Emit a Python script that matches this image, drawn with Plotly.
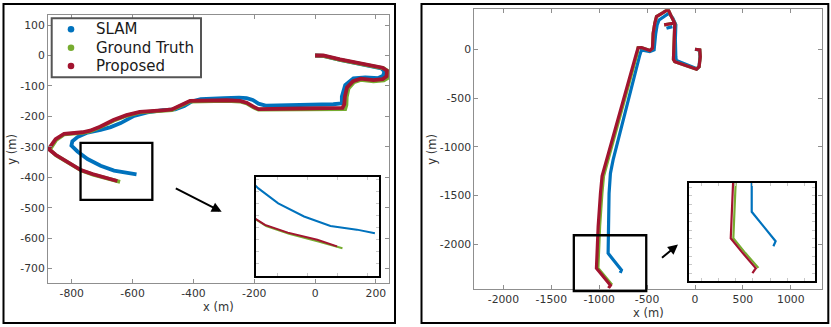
import plotly.graph_objects as go

# ---------------- data: left panel (m) ----------------
slam_l_x = [0, 27, 82, 137, 192, 218, 228, 224, 208, 165, 126, 99, 88, 88, 60, -47, -160, -186, -205, -225,
            -250, -300, -376, -405, -430, -460, -500, -551, -595, -639, -672, -705, -748, -781, -798, -801,
            -781, -748, -705, -661, -617, -587]
slam_l_y = [0, -1, -14, -25, -36, -42, -52, -66, -74, -72, -75, -97, -135, -157, -160, -163, -165, -158, -146, -140,
            -138, -140, -143, -151, -166, -177, -179, -187, -198, -222, -235, -244, -253, -268, -282, -296,
            -315, -340, -362, -378, -384, -390]
gt_l_x = [0, 27, 82, 137, 192, 226, 244, 242, 226, 192, 150, 128, 110, 104, 103, 99, -47, -186, -203, -225,
          -247, -290, -411, -444, -471, -493, -543, -576, -620, -663, -707, -740, -765, -798, -825, -851, -868,
          -872, -851, -812, -768, -730, -681, -641]
gt_l_y = [0, -1, -14, -25, -36, -42, -54, -72, -82, -85, -80, -88, -108, -137, -162, -176, -177, -178, -170, -157,
          -151, -149, -151, -165, -179, -181, -183, -187, -198, -214, -236, -249, -254, -257, -259, -277, -301,
          -309, -328, -350, -378, -391, -404, -415]
prop_l_x = [0, 27, 82, 137, 192, 222, 236, 235, 222, 192, 150, 125, 105, 98, 96, 90, -47, -186, -203, -225,
            -247, -290, -411, -444, -471, -493, -543, -576, -620, -663, -707, -740, -765, -798, -825, -853, -871,
            -876, -853, -814, -770, -732, -683, -650]
prop_l_y = [0, 0, -13, -24, -35, -40, -50, -68, -78, -81, -76, -84, -105, -135, -160, -172, -174, -176, -168, -155,
            -149, -147, -149, -163, -177, -179, -181, -185, -196, -212, -234, -247, -252, -255, -257, -275, -299,
            -307, -326, -348, -376, -389, -401, -412]

# ---------------- data: right panel (m) ----------------
slam_r_x = [0, 48, 52, 42, 20, -195, -200, -205, -200, -232, -272, -320, -375, -395, -410, -427, -472, -559, -576,
            -855, -883, -897, -907, -907, -837, -768, -781, None, -298, -236]
slam_r_y = [0, -8, -75, -180, -200, -115, -80, 100, 250, 320, 370, 340, 300, 250, 160, -7, -24, -7, -58,
            -1135, -1272, -1477, -1819, -2092, -2178, -2263, -2292, None, 215, 232]
gt_r_x = [0, 50, 55, 43, 15, -211, -225, -218, -211, -246, -281, -333, -402, -420, -437, -444, -470, -559, -594,
          -603, -927, -955, -972, -996, -1014, -944, -868, None, -322, -228]
gt_r_y = [0, -7, -75, -178, -205, -127, -103, 96, 267, 335, 410, 376, 335, 267, 164, 10, -12, 18, 15,
          -40, -1220, -1300, -1477, -1819, -2246, -2332, -2418, None, 250, 267]
prop_r_x = [0, 50, 55, 43, 15, -211, -225, -218, -211, -246, -281, -333, -402, -420, -437, -444, -470, -559, -594,
            -611, -942, -970, -987, -1011, -1029, -959, -883, -903, None, -322, -228]
prop_r_y = [0, -7, -75, -178, -205, -127, -103, 96, 267, 335, 410, 376, 335, 267, 164, 10, -12, 18, 15,
            -40, -1220, -1300, -1477, -1819, -2246, -2332, -2420, -2449, None, 250, 267]

series_names = ["SLAM", "Ground Truth", "Proposed"]
series_colors = ["#0072BD", "#77AC30", "#A2142F"]

# tick values
l_xticks = [-800, -600, -400, -200, 0, 200]
l_yticks = [-700, -600, -500, -400, -300, -200, -100, 0, 100]
r_xticks = [-2000, -1500, -1000, -500, 0, 500, 1000]
r_yticks = [-2000, -1500, -1000, -500, 0]
axis_titles = ["x (m)", "y (m)"]

# zoom boxes (data units) shown on the main axes
l_box_x = [-771, -535]
l_box_y = [-474, -287]
r_box_x = [-1265, -509]
r_box_y = [-2479, -1907]

# ---------------- layout geometry ----------------
W, H = 831, 327


def dx(a, b):
    return [a / W, b / W]


def dy(top, bottom):
    return [1 - bottom / H, 1 - top / H]


def px(xp):
    return xp / W


def py(yp):
    return 1 - yp / H


L_dom = (dx(48, 389), dy(15, 283.3))
LI_dom = (dx(256, 378.5), dy(177, 275.7))
R_dom = (dx(474.3, 822.3), dy(9.3, 288.7))
RI_dom = (dx(689.3, 815), dy(182.7, 281.3))

L_rng = ([-878, 243], [-748, 133])
LI_rng = ([-785, -581], [-461, -296])
R_rng = ([-2304, 1329], [-2455, 410])
RI_rng = ([-1270, -539], [-2496, -1923])

FONT = "DejaVu Sans"
TXT = "#333333"
AX = "#8f8f8f"

fig = go.Figure()

groups = [
    ("x", "y", [slam_l_x, gt_l_x, prop_l_x], [slam_l_y, gt_l_y, prop_l_y], 3.8),
    ("x2", "y2", [slam_l_x, gt_l_x, prop_l_x], [slam_l_y, gt_l_y, prop_l_y], 2),
    ("x3", "y3", [slam_r_x, gt_r_x, prop_r_x], [slam_r_y, gt_r_y, prop_r_y], 3.2),
    ("x4", "y4", [slam_r_x, gt_r_x, prop_r_x], [slam_r_y, gt_r_y, prop_r_y], 2.2),
]
for xa, ya, xs, ys, lw in groups:
    for i in range(3):
        fig.add_trace(go.Scatter(x=xs[i], y=ys[i], mode="lines", xaxis=xa, yaxis=ya, name=series_names[i],
                                 line=dict(color=series_colors[i], width=lw),
                                 showlegend=False, hoverinfo="skip"))


def main_axis(dom, rng, ticks, anchor):
    return dict(domain=dom, range=rng, tickmode="array", tickvals=ticks, ticktext=[str(t) for t in ticks],
                ticks="inside", ticklen=4, tickcolor=AX, tickwidth=1,
                showline=True, linecolor=AX, linewidth=1, mirror="ticks",
                showgrid=False, zeroline=False, anchor=anchor,
                tickfont=dict(family=FONT, size=10.8, color=TXT))


def inset_axis(dom, rng, dtick, anchor):
    return dict(domain=dom, range=rng, tick0=0, dtick=dtick, ticks="inside", ticklen=3, tickcolor="#c8c8c8",
                showticklabels=False, showline=True, linecolor="black", linewidth=2, mirror="ticks",
                showgrid=False, zeroline=False, anchor=anchor)


fig.update_layout(
    width=W, height=H, margin=dict(l=0, r=0, t=0, b=0),
    paper_bgcolor="white", plot_bgcolor="white", showlegend=False,
    xaxis=main_axis(L_dom[0], L_rng[0], l_xticks, "y"),
    yaxis=main_axis(L_dom[1], L_rng[1], l_yticks, "x"),
    xaxis2=inset_axis(LI_dom[0], LI_rng[0], 50, "y2"),
    yaxis2=inset_axis(LI_dom[1], LI_rng[1], 20, "x2"),
    xaxis3=main_axis(R_dom[0], R_rng[0], r_xticks, "y3"),
    yaxis3=main_axis(R_dom[1], R_rng[1], r_yticks, "x3"),
    xaxis4=inset_axis(RI_dom[0], RI_rng[0], 100, "y4"),
    yaxis4=inset_axis(RI_dom[1], RI_rng[1], 50, "x4"),
)


def to_paper(v, rng, dom):
    return dom[0] + (v - rng[0]) / (rng[1] - rng[0]) * (dom[1] - dom[0])


shapes = []
# outer frames
shapes.append(dict(type="rect", xref="paper", yref="paper", x0=px(3.5), x1=px(395), y0=py(323), y1=py(4),
                   line=dict(color="black", width=2)))
shapes.append(dict(type="rect", xref="paper", yref="paper", x0=px(421.5), x1=px(828.3), y0=py(323), y1=py(4),
                   line=dict(color="black", width=2)))
# zoom boxes
for bx, by, rng, dom in [(l_box_x, l_box_y, L_rng, L_dom), (r_box_x, r_box_y, R_rng, R_dom)]:
    shapes.append(dict(type="rect", xref="paper", yref="paper",
                       x0=to_paper(bx[0], rng[0], dom[0]), x1=to_paper(bx[1], rng[0], dom[0]),
                       y0=to_paper(by[0], rng[1], dom[1]), y1=to_paper(by[1], rng[1], dom[1]),
                       line=dict(color="black", width=2.3)))

# legend (drawn inside the left axes)
LEG_L, LEG_R, LEG_T, LEG_B = 51.7, 201, 18.3, 77.3
shapes.append(dict(type="rect", xref="paper", yref="paper", x0=px(LEG_L), x1=px(LEG_R), y0=py(LEG_B),
                   y1=py(LEG_T), line=dict(color="#555555", width=2), fillcolor="white", layer="above"))
row_y = [29.3, 47.7, 66.0]
for i, name in enumerate(series_names):
    r = 3.3
    shapes.append(dict(type="circle", xref="paper", yref="paper",
                       x0=px(71 - r), x1=px(71 + r), y0=py(row_y[i] + r), y1=py(row_y[i] - r),
                       fillcolor=series_colors[i], line=dict(color=series_colors[i], width=0), layer="above"))
    fig.add_annotation(xref="paper", yref="paper", x=px(94), y=py(row_y[i]), text=name, showarrow=False,
                       xanchor="left", yanchor="middle", font=dict(family=FONT, size=15, color="#1a1a1a"))
fig.update_layout(shapes=shapes)

# axis titles
for (xc, yc, t, ang) in [(218.5, 307.3, axis_titles[0], 0), (11.7, 149, axis_titles[1], -90),
                         (648.3, 313.3, axis_titles[0], 0), (431.7, 149, axis_titles[1], -90)]:
    fig.add_annotation(xref="paper", yref="paper", x=px(xc), y=py(yc), text=t, showarrow=False,
                       textangle=ang, xanchor="center", yanchor="middle",
                       font=dict(family=FONT, size=11.5, color=TXT))

# arrows
fig.add_annotation(xref="paper", yref="paper", x=px(221.7), y=py(211.7), ax=-47.4, ay=-24,
                   axref="pixel", ayref="pixel", text="", showarrow=True, arrowhead=2, arrowsize=1,
                   arrowwidth=2, arrowcolor="black", standoff=0)
fig.add_annotation(xref="paper", yref="paper", x=px(678), y=py(244.5), ax=-17.5, ay=14.5,
                   axref="pixel", ayref="pixel", text="", showarrow=True, arrowhead=2, arrowsize=1,
                   arrowwidth=2, arrowcolor="black", standoff=0)

fig.write_html("out.html", config={"staticPlot": True},
               post_script="document.body.style.margin='0';document.body.style.padding='0';")
